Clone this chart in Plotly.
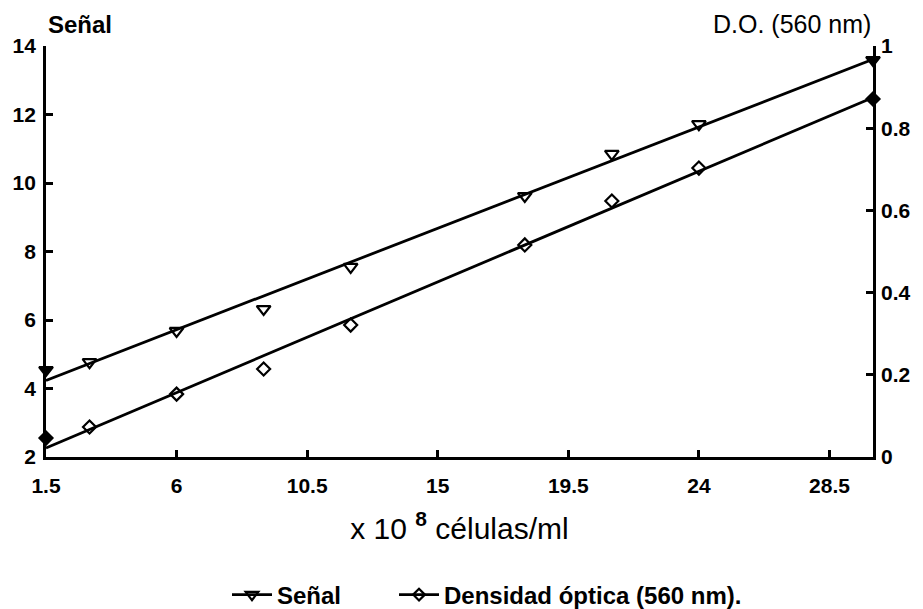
import numpy as np
import plotly.graph_objects as go

# Data
cells = [1.5, 3, 6, 9, 12, 18, 21, 24, 30]
senal = [4.54, 4.77, 5.68, 6.32, 7.55, 9.62, 10.85, 11.72, 13.59]
densidad = [0.046, 0.073, 0.153, 0.214, 0.321, 0.516, 0.623, 0.703, 0.871]
x_ticks = [1.5, 6, 10.5, 15, 19.5, 24, 28.5]
x_ticklabels = ["1.5", "6", "10.5", "15", "19.5", "24", "28.5"]
left_ticks = [2, 4, 6, 8, 10, 12, 14]
right_ticks = [0, 0.2, 0.4, 0.6, 0.8, 1]
right_ticklabels = ["0", "0.2", "0.4", "0.6", "0.8", "1"]

FONT = "Liberation Sans, Arial, sans-serif"
BLACK = "#000000"

x = np.array(cells)
xs = np.array([x.min(), x.max()])
p1 = np.polyfit(x, np.array(senal), 1)
p2 = np.polyfit(x, np.array(densidad), 1)

sym1 = ["triangle-down"] + ["triangle-down-open"] * (len(cells) - 2) + ["triangle-down"]
sym2 = ["diamond"] + ["diamond-open"] * (len(cells) - 2) + ["diamond"]

fig = go.Figure()
fig.add_trace(go.Scatter(x=xs, y=np.polyval(p1, xs), mode="lines",
                         line=dict(color=BLACK, width=2.8), showlegend=False,
                         hoverinfo="skip"))
fig.add_trace(go.Scatter(x=xs, y=np.polyval(p2, xs), mode="lines", yaxis="y2",
                         line=dict(color=BLACK, width=2.8), showlegend=False,
                         hoverinfo="skip"))
fig.add_trace(go.Scatter(x=cells, y=senal, mode="markers", showlegend=False,
                         cliponaxis=False,
                         marker=dict(symbol=sym1, size=12, color=BLACK,
                                     line=dict(color=BLACK, width=2.2))))
fig.add_trace(go.Scatter(x=cells, y=densidad, mode="markers", yaxis="y2",
                         showlegend=False, cliponaxis=False,
                         marker=dict(symbol=sym2, size=10, color=BLACK,
                                     line=dict(color=BLACK, width=2.2))))
# legend entries
fig.add_trace(go.Scatter(x=[None], y=[None], mode="lines+markers", name="Señal",
                         legend="legend",
                         line=dict(color=BLACK, width=2.8),
                         marker=dict(symbol="triangle-down-open", size=11, color=BLACK,
                                     line=dict(width=2.2))))
fig.add_trace(go.Scatter(x=[None], y=[None], mode="lines+markers",
                         name="Densidad óptica (560 nm).", legend="legend2",
                         line=dict(color=BLACK, width=2.8),
                         marker=dict(symbol="diamond-open", size=9, color=BLACK,
                                     line=dict(width=2.2))))

tickfont = dict(family=FONT, size=21, color=BLACK, weight="bold")
axis_common = dict(showline=True, linecolor=BLACK, linewidth=2.8,
                   ticks="inside", ticklen=7, tickwidth=2.5, tickcolor=BLACK,
                   showgrid=False, zeroline=False, tickfont=tickfont,
                   automargin=False)
legend_font = dict(family=FONT, size=24, color=BLACK, weight="bold")

fig.update_layout(
    width=923, height=609,
    margin=dict(l=46, r=50, t=46, b=152, autoexpand=False),
    paper_bgcolor="white", plot_bgcolor="white",
    font=dict(family=FONT, color=BLACK),
    showlegend=True,
    legend=dict(orientation="h", xref="container", yref="container",
                x=227 / 923, xanchor="left", y=1 - 595 / 609, yanchor="middle",
                font=legend_font, itemwidth=40, bgcolor="rgba(0,0,0,0)"),
    legend2=dict(orientation="h", xref="container", yref="container",
                 x=394 / 923, xanchor="left", y=1 - 595 / 609, yanchor="middle",
                 font=legend_font, itemwidth=40, bgcolor="rgba(0,0,0,0)"),
    xaxis=dict(range=[1.5, 30], tickvals=x_ticks, ticktext=x_ticklabels,
               ticklabelstandoff=8, **axis_common,
               title=dict(text="x 10 <sup><b>8</b></sup> células/ml",
                          font=dict(family=FONT, size=30, color=BLACK),
                          standoff=22)),
    yaxis=dict(range=[2, 14], tickvals=left_ticks, ticklabelstandoff=3,
               **axis_common),
    yaxis2=dict(range=[0, 1], tickvals=right_ticks, ticktext=right_ticklabels,
                overlaying="y", side="right", anchor="x", ticklabelstandoff=1,
                **axis_common),
    annotations=[
        dict(text="Señal", xref="paper", yref="paper", x=0.0, y=1.0,
             xanchor="left", yanchor="middle", yshift=22, showarrow=False,
             font=dict(family=FONT, size=24, color=BLACK, weight="bold")),
        dict(text="D.O. (560 nm)", xref="paper", yref="paper", x=1.0, y=1.0,
             xanchor="right", yanchor="middle", yshift=22, showarrow=False,
             font=dict(family=FONT, size=25, color=BLACK)),
    ],
)

fig.write_html("out.html")
